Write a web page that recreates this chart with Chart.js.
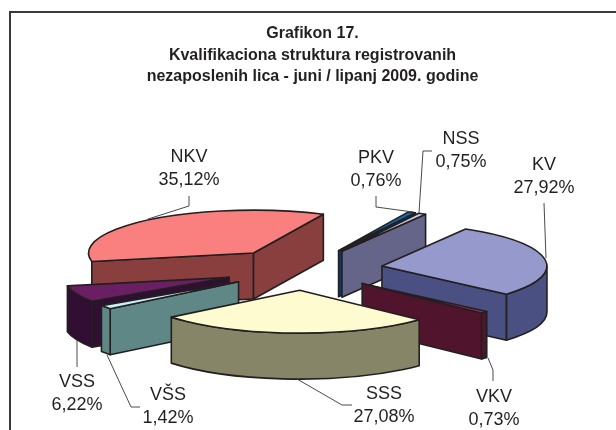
<!DOCTYPE html>
<html><head><meta charset="utf-8">
<style>html,body{margin:0;padding:0;background:#fff}canvas{display:block}</style>
<script src="https://cdn.jsdelivr.net/npm/chart.js@4"></script>
</head><body><canvas id="c" width="616" height="430"></canvas>
<script>
const categories = ['NKV','PKV','NSS','KV','VKV','SSS','VŠS','VSS'];
const shares = [35.12,0.76,0.75,27.92,0.73,27.08,1.42,6.22];
const valueLabels = ['35,12%','0,76%','0,75%','27,92%','0,73%','27,08%','1,42%','6,22%'];
const topColors = ['#fa8080','#0b6cb5','#c9cbe8','#9699cb','#a0305c','#fffbd0','#c8f0f8','#6b1f63'];
const sideColors = ['#8a3f3f','#123a68','#65658a','#4a5082','#50142c','#868567','#5f8785','#300f33'];
const titleLines = ['Grafikon 17.','Kvalifikaciona struktura registrovanih','nezaposlenih lica - juni / lipanj 2009. godine'];
const labelLayout = [
 {x:189,y:157.5,line:[[148,219],[189,206],[189,196]]},
 {x:376,y:158.5,line:[[413,212],[376,207],[376,196]]},
 {x:461,y:139.5,line:[[419,213],[423,151],[432,151]]},
 {x:544,y:165,line:[[546,258],[544,203]]},
 {x:494,y:397,line:[[488,358],[493,370],[493,381]]},
 {x:384,y:394,line:[[297,379],[342,405],[352,405]]},
 {x:168,y:395,line:[[107,355],[131,407],[140,407]]},
 {x:77,y:382,line:[[77,340],[77,367]]}
];
const INK='#231f20';
const pie3d={id:'pie3d',
 beforeDraw(chart){const c=chart.ctx;c.save();c.fillStyle='#fff';c.fillRect(0,0,616,430);
  c.strokeStyle='#3a3a3a';c.lineWidth=2;c.beginPath();c.moveTo(10,430);c.lineTo(10,12);c.lineTo(616,12);c.stroke();c.restore();},
 beforeDatasetsDraw(chart,args,o){
  const c=chart.ctx,arcs=chart.getDatasetMeta(0).data;
  const items=arcs.map((a,i)=>{const s=a.startAngle,e=a.endAngle,m=(s+e)/2;return{i,s,e,m,a,order:Math.sin(m)};}).sort((p,q)=>p.order-q.order);
  c.save();c.lineJoin='round';c.strokeStyle=INK;c.lineWidth=o.edge;
  for(const t of items){
   const R=t.a.outerRadius,cx=t.a.x+o.shiftX+Math.cos(t.m)*o.explode,cy=t.a.y+Math.sin(t.m)*o.explode*o.squash;
   const px=(f)=>cx+R*Math.cos(f),py=(f)=>cy+R*o.squash*Math.sin(f);
   const face=(f)=>{c.beginPath();c.moveTo(cx,cy);c.lineTo(px(f),py(f));c.lineTo(px(f),py(f)+o.depth);c.lineTo(cx,cy+o.depth);c.closePath();c.fillStyle=sideColors[t.i];c.fill();c.stroke();};
   if(Math.cos(t.s)<0)face(t.s);
   if(Math.cos(t.e)>0)face(t.e);
   for(const k of [0,2,4]){
    const lo=Math.max(t.s,k*Math.PI-0),hi=Math.min(t.e,(k+1)*Math.PI);
    if(hi>lo){c.beginPath();c.ellipse(cx,cy,R,R*o.squash,0,lo,hi);c.ellipse(cx,cy+o.depth,R,R*o.squash,0,hi,lo,true);c.closePath();c.fillStyle=sideColors[t.i];c.fill();c.stroke();}
   }
   c.beginPath();c.moveTo(cx,cy);c.ellipse(cx,cy,R,R*o.squash,0,t.s,t.e);c.closePath();c.fillStyle=topColors[t.i];c.fill();c.stroke();
  }
  c.restore();return false;
 },
 afterDraw(chart){
  const c=chart.ctx;c.save();c.strokeStyle='#4a4a4a';c.lineWidth=1;
  labelLayout.forEach(l=>{c.beginPath();l.line.forEach((p,j)=>j?c.lineTo(p[0],p[1]):c.moveTo(p[0],p[1]));c.stroke();});
  c.fillStyle=INK;c.font='18px "Liberation Sans"';c.textAlign='center';c.textBaseline='middle';
  labelLayout.forEach((l,i)=>{c.fillText(categories[i],l.x,l.y);c.fillText(valueLabels[i],l.x,l.y+23);});
  c.restore();
 }
};
new Chart(document.getElementById('c'),{type:'pie',
 data:{labels:categories,datasets:[{data:shares,backgroundColor:topColors}]},
 plugins:[pie3d],
 options:{responsive:false,animation:false,rotation:-101.4,radius:165,events:[],
  layout:{padding:{left:9,right:0,top:0,bottom:0}},
  plugins:{legend:{display:false},tooltip:{enabled:false},
   title:{display:true,text:titleLines,color:INK,align:'center',font:{family:'"Liberation Sans"',size:16,weight:'bold',lineHeight:1.34},padding:{top:23,bottom:21.5}},
   pie3d:{explode:80,squash:0.26,depth:46,edge:1.6,shiftX:-9.5}
  }}
});
</script></body></html>
